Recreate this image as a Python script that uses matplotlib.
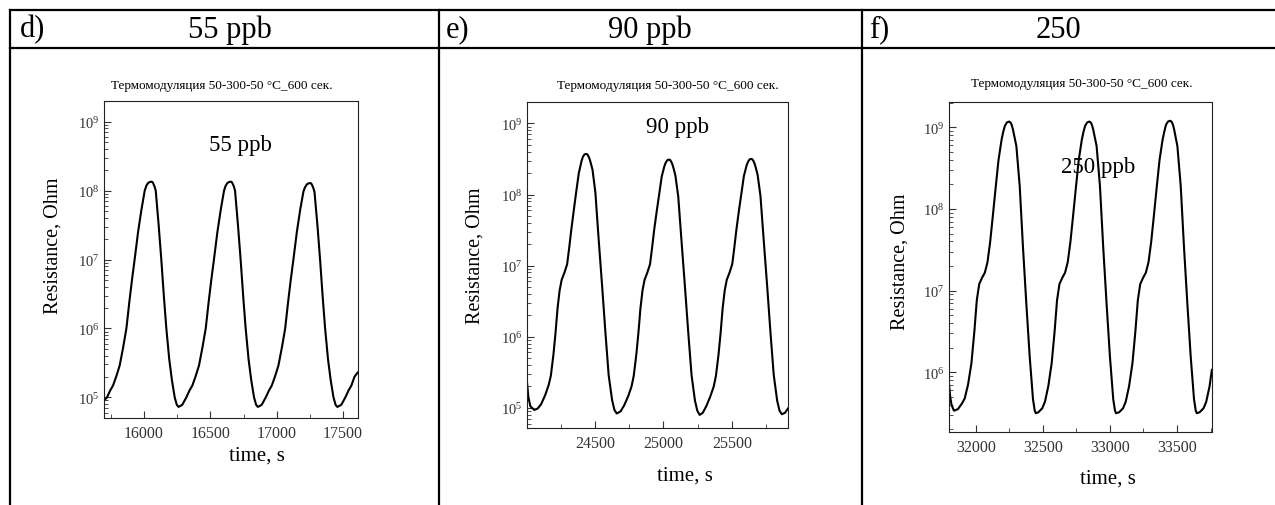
import matplotlib
matplotlib.use("Agg")
import matplotlib.pyplot as plt
from matplotlib.lines import Line2D
from matplotlib.ticker import MultipleLocator, LogLocator, NullFormatter
import numpy as np

plt.rcParams["font.family"] = ["Liberation Serif", "DejaVu Serif"]
plt.rcParams["mathtext.fontset"] = "custom"
plt.rcParams["mathtext.rm"] = "Liberation Serif"

W, H = 1275, 506

# panel d: 55 ppb  (time in s, log10 of resistance in Ohm)
d_time = [15698, 15721, 15745, 15766, 15790, 15816, 15842, 15867, 15890, 15910,
          15929, 15955, 15980, 16005, 16017, 16030, 16043, 16055, 16063, 16070,
          16079, 16088, 16110, 16130, 16150, 16168, 16190, 16210, 16231, 16247, 16260,
          16288, 16319, 16343, 16364, 16388, 16414, 16440, 16465, 16488, 16508,
          16527, 16553, 16578, 16603, 16615, 16628, 16641, 16653, 16661, 16668,
          16677, 16686, 16708, 16728, 16748, 16766, 16788, 16808, 16829, 16845, 16858,
          16887, 16918, 16942, 16963, 16987, 17013, 17039, 17064, 17087, 17107,
          17126, 17152, 17177, 17202, 17214, 17227, 17240, 17252, 17260, 17267,
          17276, 17285, 17307, 17327, 17347, 17365, 17387, 17407, 17428, 17444, 17457,
          17487, 17518, 17542, 17563, 17587, 17611]
d_log_r = [4.95, 5.00, 5.10, 5.17, 5.30, 5.46, 5.72, 6.00, 6.40, 6.72,
           7.00, 7.40, 7.72, 8.00, 8.07, 8.11, 8.125, 8.13, 8.125, 8.10,
           8.06, 8.00, 7.50, 7.00, 6.45, 6.00, 5.55, 5.25, 5.00, 4.89, 4.86,
           4.89, 5.00, 5.10, 5.17, 5.30, 5.46, 5.72, 6.00, 6.40, 6.72,
           7.00, 7.40, 7.72, 8.00, 8.07, 8.11, 8.125, 8.13, 8.125, 8.10,
           8.06, 8.00, 7.50, 7.00, 6.45, 6.00, 5.55, 5.25, 5.00, 4.89, 4.86,
           4.89, 5.00, 5.10, 5.17, 5.30, 5.46, 5.72, 6.00, 6.40, 6.72,
           7.00, 7.40, 7.72, 7.99, 8.05, 8.09, 8.105, 8.11, 8.105, 8.08,
           8.04, 7.98, 7.50, 7.00, 6.45, 6.00, 5.55, 5.25, 5.00, 4.89, 4.86,
           4.89, 5.00, 5.10, 5.17, 5.30, 5.36]

# panel e: 90 ppb
e_time = [24005, 24015, 24030, 24058, 24083, 24108, 24138, 24163, 24179, 24198,
          24213, 24228, 24243, 24258, 24278, 24298, 24313, 24328, 24348, 24363,
          24383, 24403, 24413, 24423, 24431, 24438, 24445, 24453, 24460, 24468,
          24483, 24504, 24528, 24553, 24577, 24601, 24626, 24643, 24660,
          24688, 24713, 24743, 24768, 24784, 24803, 24818, 24833, 24848, 24863,
          24883, 24903, 24918, 24933, 24953, 24968, 24988, 25008, 25018, 25028,
          25036, 25043, 25050, 25058, 25065, 25073, 25088, 25109, 25133, 25158,
          25182, 25206, 25231, 25248, 25265,
          25288, 25313, 25343, 25368, 25384, 25403, 25418, 25433, 25448, 25463,
          25483, 25503, 25518, 25533, 25553, 25568, 25588, 25608, 25618, 25628,
          25636, 25643, 25650, 25658, 25665, 25673, 25688, 25709, 25733, 25758,
          25782, 25806, 25831, 25848, 25865, 25888, 25910]
e_log_r = [5.36, 5.15, 5.02, 4.97, 4.99, 5.05, 5.18, 5.32, 5.45, 5.75,
           6.05, 6.40, 6.65, 6.80, 6.90, 7.02, 7.25, 7.50, 7.80, 8.02,
           8.30, 8.47, 8.53, 8.56, 8.57, 8.57, 8.565, 8.54, 8.51, 8.46,
           8.35, 8.03, 7.37, 6.72, 6.07, 5.46, 5.11, 4.97, 4.92,
           4.95, 5.03, 5.16, 5.30, 5.45, 5.75, 6.05, 6.40, 6.65, 6.80,
           6.90, 7.02, 7.25, 7.50, 7.78, 7.98, 8.25, 8.40, 8.45, 8.48,
           8.49, 8.49, 8.485, 8.46, 8.43, 8.38, 8.27, 7.97, 7.34, 6.70,
           6.06, 5.46, 5.10, 4.96, 4.90,
           4.93, 5.02, 5.16, 5.30, 5.45, 5.75, 6.05, 6.40, 6.65, 6.80,
           6.90, 7.02, 7.25, 7.50, 7.79, 7.99, 8.26, 8.41, 8.46, 8.49,
           8.50, 8.50, 8.495, 8.47, 8.44, 8.39, 8.28, 7.98, 7.35, 6.71,
           6.06, 5.46, 5.10, 4.96, 4.91, 4.93, 4.99]

# panel f: 250 ppb
f_time = [31800, 31810, 31820, 31838, 31868, 31898, 31918, 31943, 31968, 31990,
          32008, 32026, 32048, 32068, 32088, 32108, 32128, 32148, 32170, 32193,
          32206, 32218, 32233, 32248, 32255, 32263, 32270, 32278, 32303, 32328,
          32352, 32377, 32402, 32427, 32440, 32448,
          32466, 32496, 32516, 32541, 32566, 32588, 32606, 32624, 32646, 32666,
          32686, 32706, 32726, 32746, 32768, 32791, 32804, 32816, 32831, 32846,
          32853, 32861, 32868, 32876, 32901, 32926, 32950, 32975, 33000, 33025,
          33038, 33046,
          33068, 33098, 33118, 33143, 33168, 33190, 33208, 33226, 33248, 33268,
          33288, 33308, 33328, 33348, 33370, 33393, 33406, 33418, 33433, 33448,
          33455, 33463, 33470, 33478, 33503, 33528, 33552, 33577, 33602, 33627,
          33640, 33648, 33668, 33698, 33718, 33743, 33760]
f_log_r = [5.87, 5.70, 5.60, 5.53, 5.55, 5.62, 5.68, 5.85, 6.11, 6.50,
           6.88, 7.08, 7.16, 7.22, 7.35, 7.60, 7.92, 8.25, 8.60, 8.85,
           8.95, 9.02, 9.06, 9.07, 9.065, 9.05, 9.02, 8.97, 8.77, 8.28,
           7.54, 6.85, 6.20, 5.67, 5.53, 5.50,
           5.51, 5.56, 5.64, 5.83, 6.11, 6.50, 6.88, 7.08, 7.16, 7.22,
           7.35, 7.60, 7.92, 8.25, 8.60, 8.85, 8.95, 9.02, 9.06, 9.07,
           9.065, 9.05, 9.02, 8.97, 8.77, 8.28, 7.54, 6.85, 6.20, 5.67,
           5.53, 5.50,
           5.51, 5.56, 5.64, 5.83, 6.11, 6.50, 6.88, 7.08, 7.16, 7.22,
           7.35, 7.60, 7.92, 8.25, 8.60, 8.85, 8.95, 9.03, 9.07, 9.08,
           9.075, 9.06, 9.03, 8.98, 8.77, 8.28, 7.54, 6.85, 6.20, 5.67,
           5.53, 5.50, 5.51, 5.56, 5.64, 5.83, 6.03]

letters = ["d)", "e)", "f)"]
headers = ["55 ppb", "90 ppb", "250"]
inner_labels = ["55 ppb", "90 ppb", "250 ppb"]
title = "Термомодуляция 50-300-50 °C_600 сек."
x_limits = [(15698, 17613), (24005, 25910), (31801, 33761)]
y_limits = [(5.0e4, 2.0e9), (5.2e4, 2.0e9), (1.86e5, 2.04e9)]


def fx(x):
    return x / W


def fy(y):
    return 1 - y / H


fig = plt.figure(figsize=(W / 100, H / 100), dpi=100)

# table grid
lw = 1.6
for y in (11, 49):
    fig.add_artist(Line2D([fx(10), 1.0], [fy(y), fy(y)], color="black", lw=lw, transform=fig.transFigure))
for x in (10, 439, 862):
    fig.add_artist(Line2D([fx(x), fx(x)], [fy(11), 0.0], color="black", lw=lw, transform=fig.transFigure))

# header cells
letter_x = [20, 446, 869]
header_x = [230, 650, 1058]
for lx, hx, let, hd in zip(letter_x, header_x, letters, headers):
    fig.text(fx(lx), fy(30), let, fontsize=22, ha="left", va="center")
    fig.text(fx(hx), fy(30), hd, fontsize=22, ha="center", va="center")

# panels (pixel boxes: left, top, right, bottom)
boxes = [(104, 102, 358, 419), (527, 103, 788, 429), (949, 103, 1212, 433)]
series = [(d_time, d_log_r), (e_time, e_log_r), (f_time, f_log_r)]
title_pos = [(222, 86), (668, 86), (1082, 84)]
inner_pos = [(240, 145), (677, 127), (1098, 167)]
ylabel_pos = [(53, 246), (475, 256), (900, 262)]
xlabel_pos = [(257, 456), (685, 476), (1108, 479)]

for i in range(3):
    l, t, r, b = boxes[i]
    ax = fig.add_axes([fx(l), fy(b), (r - l) / W, (b - t) / H])
    tt, lr = series[i]
    ax.plot(tt, np.power(10.0, lr), color="black", lw=1.5)
    ax.set_yscale("log")
    ax.set_xlim(*x_limits[i])
    ax.set_ylim(*y_limits[i])

    ax.xaxis.set_major_locator(MultipleLocator(500))
    ax.xaxis.set_minor_locator(MultipleLocator(250))
    ax.yaxis.set_major_locator(LogLocator(base=10, numticks=10))
    ax.yaxis.set_minor_locator(LogLocator(base=10, subs=np.arange(2, 10), numticks=10))
    ax.yaxis.set_minor_formatter(NullFormatter())

    ax.tick_params(which="both", direction="in", top=False, right=False, colors="#333333")
    ax.tick_params(which="major", length=5, width=0.8)
    ax.tick_params(which="minor", length=3, width=0.6)
    ax.tick_params(axis="x", labelsize=11.5, pad=5)
    ax.tick_params(axis="y", labelsize=10.5, pad=3)
    for sp in ax.spines.values():
        sp.set_linewidth(0.8)
        sp.set_color("#222222")

    fig.text(fx(title_pos[i][0]), fy(title_pos[i][1]), title, fontsize=9.5, ha="center", va="center")
    fig.text(fx(inner_pos[i][0]), fy(inner_pos[i][1]), inner_labels[i], fontsize=16.5, ha="center", va="center")
    fig.text(fx(ylabel_pos[i][0]), fy(ylabel_pos[i][1]), "Resistance, Ohm", fontsize=14.5,
             rotation=90, ha="center", va="center")
    fig.text(fx(xlabel_pos[i][0]), fy(xlabel_pos[i][1]), "time, s", fontsize=15, ha="center", va="center")

fig.savefig("out.png", dpi=100)
